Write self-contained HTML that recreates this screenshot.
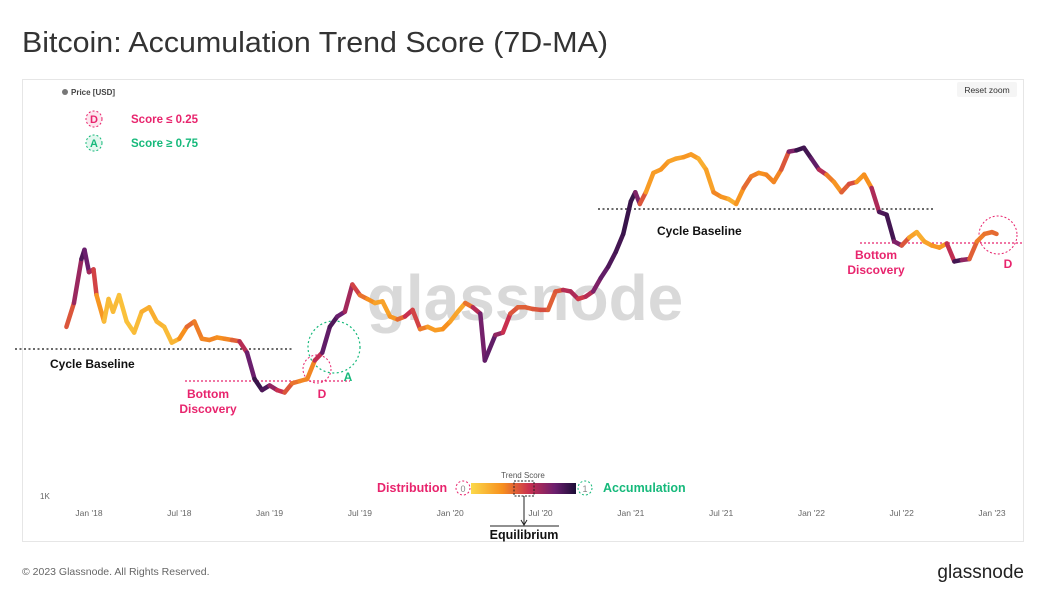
<!DOCTYPE html>
<html><head><meta charset="utf-8">
<style>
body{margin:0;background:#fff;font-family:"Liberation Sans",sans-serif;}
svg text{font-family:"Liberation Sans",sans-serif;}
</style></head>
<body>
<svg width="1041" height="600" viewBox="0 0 1041 600">
<text x="22" y="52" font-size="29" textLength="586" lengthAdjust="spacingAndGlyphs" fill="#333">Bitcoin: Accumulation Trend Score (7D-MA)</text>
<rect x="22.5" y="79.5" width="1001" height="462" fill="#fff" stroke="#e6e6e6"/>
<text x="525" y="320" font-size="64" font-weight="bold" fill="#d9d9d9" text-anchor="middle">glassnode</text>
<circle cx="65" cy="92" r="3" fill="#777"/>
<text x="71" y="95" font-size="8" fill="#444" font-weight="bold">Price [USD]</text>
<rect x="957" y="82" width="60" height="15" rx="2" fill="#f5f5f5"/>
<text x="987" y="93" font-size="8.5" fill="#333" text-anchor="middle">Reset zoom</text>
<circle cx="94" cy="119" r="8" fill="#fde6ee" stroke="#e8246d" stroke-dasharray="2 2"/>
<text x="94" y="123" font-size="11" fill="#e8246d" text-anchor="middle" font-weight="bold">D</text>
<text x="131" y="123" font-size="11.5" fill="#e8246d" font-weight="bold">Score ≤ 0.25</text>
<circle cx="94" cy="143" r="8" fill="#e3f7ef" stroke="#16b97b" stroke-dasharray="2 2"/>
<text x="94" y="147" font-size="11" fill="#16b97b" text-anchor="middle" font-weight="bold">A</text>
<text x="131" y="147" font-size="11.5" fill="#16b97b" font-weight="bold">Score ≥ 0.75</text>
<text x="40" y="499" font-size="8" fill="#666">1K</text>
<g id="xaxis"></g>
<line x1="15" y1="349" x2="292" y2="349" stroke="#111" stroke-dasharray="2 2.5" stroke-width="1.3"/>
<text x="50" y="368" font-size="12" font-weight="bold" fill="#111">Cycle Baseline</text>
<line x1="185" y1="381" x2="350" y2="381" stroke="#e8246d" stroke-dasharray="2 2" stroke-width="1.2"/>
<text x="208" y="398" font-size="12" font-weight="bold" fill="#e8246d" text-anchor="middle">Bottom</text>
<text x="208" y="413" font-size="12" font-weight="bold" fill="#e8246d" text-anchor="middle">Discovery</text>
<circle cx="317" cy="369" r="14" fill="none" stroke="#e8246d" stroke-dasharray="2 2"/>
<text x="322" y="398" font-size="12" font-weight="bold" fill="#e8246d" text-anchor="middle">D</text>
<circle cx="334" cy="347" r="26" fill="none" stroke="#16b97b" stroke-dasharray="2 2.5" stroke-width="1.2"/>
<text x="348" y="381" font-size="12" font-weight="bold" fill="#16b97b" text-anchor="middle">A</text>
<line x1="598" y1="209" x2="934" y2="209" stroke="#111" stroke-dasharray="2 2.5" stroke-width="1.3"/>
<text x="657" y="235" font-size="12" font-weight="bold" fill="#111">Cycle Baseline</text>
<line x1="860" y1="243" x2="1024" y2="243" stroke="#e8246d" stroke-dasharray="2 2" stroke-width="1.2"/>
<text x="876" y="259" font-size="12" font-weight="bold" fill="#e8246d" text-anchor="middle">Bottom</text>
<text x="876" y="274" font-size="12" font-weight="bold" fill="#e8246d" text-anchor="middle">Discovery</text>
<circle cx="998" cy="235" r="19" fill="none" stroke="#e8246d" stroke-dasharray="2 2"/>
<text x="1008" y="268" font-size="12" font-weight="bold" fill="#e8246d" text-anchor="middle">D</text>
<g id="series"></g>
<defs><linearGradient id="grad" x1="0" x2="1">
<stop offset="0" stop-color="#fbd94a"/><stop offset="0.3" stop-color="#f7901e"/><stop offset="0.55" stop-color="#c9304f"/><stop offset="0.8" stop-color="#6b1f6e"/><stop offset="1" stop-color="#1b0d36"/></linearGradient></defs>
<text x="377" y="492" font-size="12.5" font-weight="bold" fill="#e8246d">Distribution</text>
<circle cx="463" cy="488" r="7" fill="none" stroke="#e8246d" stroke-dasharray="2 2"/>
<text x="463" y="492" font-size="9" fill="#888" text-anchor="middle">0</text>
<rect x="471" y="483" width="105" height="11" fill="url(#grad)"/>
<text x="523" y="478" font-size="8" fill="#555" text-anchor="middle">Trend Score</text>
<rect x="514" y="481" width="20" height="15" fill="none" stroke="#222" stroke-dasharray="2 1.5"/>
<circle cx="585" cy="488" r="7" fill="none" stroke="#16b97b" stroke-dasharray="2 2"/>
<text x="585" y="492" font-size="9" fill="#888" text-anchor="middle">1</text>
<text x="603" y="492" font-size="12.5" font-weight="bold" fill="#16b97b">Accumulation</text>
<line x1="524" y1="496" x2="524" y2="524" stroke="#222"/>
<path d="M521 520 L524 525 L527 520" fill="none" stroke="#222"/>
<line x1="490" y1="526" x2="559" y2="526" stroke="#222"/>
<text x="524" y="539" font-size="12.5" font-weight="bold" fill="#111" text-anchor="middle">Equilibrium</text>
<text x="22" y="575" font-size="10.5" fill="#666">© 2023 Glassnode. All Rights Reserved.</text>
<text x="1024" y="578" font-size="19" fill="#222" text-anchor="end">glassnode</text>
</svg>
<script>
const months=[-1.5,-1,-0.5,-0.3,0,0.3,0.5,1,1.3,1.6,2,2.5,3,3.5,4,4.5,5,5.5,6,6.5,7,7.5,8,8.5,9,9.5,10,10.5,11,11.5,12,12.5,13,13.5,14,14.5,15,15.5,16,16.5,17,17.5,18,18.5,19,19.5,20,20.5,21,21.5,22,22.5,23,23.5,24,24.5,25,25.5,26,26.3,27,27.5,28,28.5,29,29.5,30,30.5,31,31.5,32,32.5,33,33.5,34,34.5,35,35.5,36,36.3,36.6,37,37.5,38,38.5,39,39.5,40,40.5,41,41.5,42,42.5,43,43.5,44,44.5,45,45.5,46,46.5,47,47.5,48,48.5,49,49.5,50,50.5,51,51.5,52,52.5,53,53.5,54,54.5,55,55.5,56,56.5,57,57.5,58,58.5,59,59.5,60,60.3];
const prices=[7500,10000,17000,19000,14500,15000,11000,8000,10500,9000,11000,8000,7000,9000,9500,8000,7500,6200,6500,7500,8000,6500,6400,6600,6500,6400,6300,5500,4000,3500,3700,3500,3400,3800,3900,4000,5000,5500,7500,8500,9000,12500,11000,10500,10000,10200,8500,8200,8500,9200,7300,7500,7200,7300,8000,9000,10000,9500,8800,5000,6800,7000,8800,9500,9500,9300,9200,9200,11500,11700,11500,10500,10800,11500,13500,15500,18500,23000,34000,38000,33000,38000,48000,50000,55000,57000,58000,60000,57000,50000,38000,36000,35000,33000,40000,46000,48000,47000,43000,50000,62000,63000,65000,57000,50000,47000,43000,38000,42000,43000,47000,40000,30000,29000,21000,20000,22000,23500,21000,20000,19500,20500,16500,16800,17000,21000,23000,23500,23000];
const scores=[0.4,0.5,0.85,0.9,0.7,0.6,0.4,0.15,0.1,0.15,0.1,0.1,0.1,0.15,0.2,0.15,0.15,0.1,0.2,0.4,0.4,0.3,0.35,0.3,0.3,0.35,0.5,0.7,0.9,0.95,0.8,0.6,0.5,0.4,0.35,0.3,0.35,0.8,0.85,0.9,0.7,0.6,0.4,0.35,0.25,0.2,0.25,0.3,0.5,0.6,0.4,0.3,0.2,0.3,0.3,0.15,0.25,0.5,0.7,0.85,0.8,0.6,0.5,0.4,0.45,0.4,0.5,0.45,0.4,0.5,0.7,0.55,0.5,0.7,0.8,0.85,0.9,0.9,0.95,0.9,0.6,0.3,0.2,0.3,0.25,0.2,0.25,0.3,0.2,0.15,0.3,0.35,0.2,0.15,0.4,0.4,0.3,0.3,0.35,0.3,0.6,0.9,0.95,0.85,0.8,0.4,0.3,0.25,0.6,0.35,0.2,0.4,0.85,0.9,0.9,0.6,0.3,0.15,0.2,0.25,0.3,0.25,0.9,0.9,0.5,0.35,0.35,0.4,0.4];
const xTicks=["Jan '18","Jul '18","Jan '19","Jul '19","Jan '20","Jul '20","Jan '21","Jul '21","Jan '22","Jul '22","Jan '23"];
const xTickMonths=[0,6,12,18,24,30,36,42,48,54,60];
const NS="http://www.w3.org/2000/svg";
function xScale(m){return 89+m*15.05;}
function yScale(p){return 494-(Math.log10(p)-3)*191;}
const stops=[[0,[251,217,74]],[0.3,[247,144,30]],[0.55,[201,48,79]],[0.8,[107,31,110]],[1,[27,13,54]]];
function color(s){for(let i=1;i<stops.length;i++){if(s<=stops[i][0]){const a=stops[i-1],b=stops[i];const t=(s-a[0])/(b[0]-a[0]);const c=a[1].map((v,k)=>Math.round(v+(b[1][k]-v)*t));return `rgb(${c})`;}}return 'rgb(27,13,54)';}
const ax=document.getElementById('xaxis');
xTicks.forEach((lab,i)=>{const t=document.createElementNS(NS,'text');
t.setAttribute('x',xScale(xTickMonths[i]));t.setAttribute('y',516);t.setAttribute('font-size','8.5');t.setAttribute('fill','#666');t.setAttribute('text-anchor','middle');t.textContent=lab;


ax.appendChild(t);});
const g=document.getElementById('series');
for(let i=0;i<months.length-1;i++){const l=document.createElementNS(NS,'line');
l.setAttribute('x1',xScale(months[i]));l.setAttribute('y1',yScale(prices[i]));l.setAttribute('x2',xScale(months[i+1]));l.setAttribute('y2',yScale(prices[i+1]));
l.setAttribute('stroke',color((scores[i]+scores[i+1])/2));l.setAttribute('stroke-width','4.5');l.setAttribute('stroke-linecap','round');


g.appendChild(l);}
</script>
</body></html>
